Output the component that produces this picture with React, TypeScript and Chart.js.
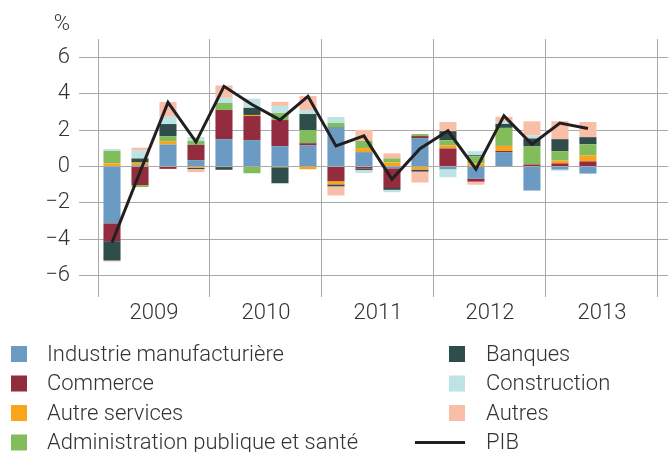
import { useEffect, useRef } from 'react';
import { Chart, registerables } from 'chart.js';

Chart.register(...registerables);

// ---- Data ----
const years = ['2009', '2010', '2011', '2012', '2013'];
const quarters = ['T1', 'T2', 'T3', 'T4'];
const categories = years.flatMap((y) => quarters.map((q) => `${y} ${q}`));
const yTickValues = [-6, -4, -2, 0, 2, 4, 6];
const unitLabel = '%';

const industrie = [-3.12, 0.07, 1.21, 0.35, 1.5, 1.45, 1.12, 1.17, 2.17, 0.79, -0.1, 1.56, -0.15, -0.66, 0.79, -1.32, -0.17, -0.39, null, null];
const commerce = [-0.98, -1.02, -0.13, 0.83, 1.6, 1.32, 1.43, 0.11, -0.81, -0.11, -1.08, 0.11, 0.99, -0.17, 0.06, 0.11, 0.17, 0.28, null, null];
const autreServices = [0.17, 0.15, 0.18, -0.07, -0.03, 0.06, -0.04, -0.15, -0.17, 0.22, 0.22, -0.17, 0.17, 0.17, 0.28, 0, 0.17, 0.33, null, null];
const administration = [0.68, -0.11, 0.28, 0.22, 0.39, -0.37, 0.39, 0.72, 0.22, 0.39, 0.22, 0.11, 0.28, 0.39, 0.99, 0.99, 0.5, 0.61, null, null];
const banques = [-1.06, 0.22, 0.66, -0.07, -0.15, 0.39, -0.88, 0.88, -0.11, -0.08, -0.1, -0.11, 0.5, 0.06, 0.22, 0.44, 0.66, 0.39, null, null];
const construction = [0.11, 0.44, 0.4, 0.22, 0.28, 0.5, 0.39, 0.22, 0.33, -0.17, -0.13, 0, -0.44, 0.22, 0.11, 0.17, -0.06, 0, null, null];
const autres = [-0.06, 0.15, 0.81, -0.17, 0.68, 0, 0.22, 0.77, -0.5, 0.61, 0.28, -0.6, 0.5, -0.17, 0.28, 0.77, 0.99, 0.83, null, null];
const pib = [-4.18, -0.3, 3.52, 1.35, 4.4, 3.4, 2.56, 3.85, 1.13, 1.68, -0.7, 0.98, 1.96, -0.15, 2.78, 1.22, 2.38, 2.09, null, null];

const barSeries = [
  { label: 'Industrie manufacturière', values: industrie, color: '#6b9bc3' },
  { label: 'Commerce', values: commerce, color: '#922c3e' },
  { label: 'Autre services', values: autreServices, color: '#f8a41d' },
  { label: 'Administration publique et santé', values: administration, color: '#83bd5b' },
  { label: 'Banques', values: banques, color: '#2f4d4b' },
  { label: 'Construction', values: construction, color: '#bde3e5' },
  { label: 'Autres', values: autres, color: '#f9bea7' },
];
const lineSeries = { label: 'PIB', values: pib, color: '#231f20' };

// ---- Styles ----
const FONT_FAMILY = 'Roboto, "Liberation Sans", Arial, sans-serif';
const FONT_SIZE = 22;
const TEXT_COLOR = '#333333';
const GRID_COLOR = '#a9a9a9';
const PER_YEAR = quarters.length;

const fmt = (v: number) => (v < 0 ? '\u2212' + Math.abs(v) : String(v));

const extrasPlugin = {
  id: 'extras',
  afterDraw(chart: any) {
    const { ctx, chartArea } = chart;
    const yScale = chart.scales.y;
    ctx.save();
    ctx.font = `300 ${FONT_SIZE}px ${FONT_FAMILY}`;
    ctx.fillStyle = TEXT_COLOR;
    ctx.textBaseline = 'middle';
    // unit label above y ticks
    ctx.textAlign = 'right';
    const tl = yScale.options.grid.tickLength;
    const pad = yScale.options.ticks.padding;
    ctx.fillText(unitLabel, yScale.right - tl - pad, chartArea.top - 15);

    // legend in two columns
    ctx.textAlign = 'left';
    const rowsPerCol = 4;
    const colBox = [11, 449];
    const colText = [47, 486];
    const firstRow = chartArea.bottom + 60;
    const rowGap = 29.5;
    chart.data.datasets.forEach((ds: any, i: number) => {
      const col = Math.floor(i / rowsPerCol);
      const row = i % rowsPerCol;
      const cy = firstRow + row * rowGap;
      if (ds.type === 'line') {
        ctx.strokeStyle = ds.borderColor;
        ctx.lineWidth = 3;
        ctx.beginPath();
        ctx.moveTo(colBox[col] - 34, cy);
        ctx.lineTo(colBox[col] + 16, cy);
        ctx.stroke();
      } else {
        ctx.fillStyle = ds.backgroundColor;
        ctx.fillRect(colBox[col], cy - 8, 16, 16);
      }
      ctx.fillStyle = TEXT_COLOR;
      ctx.fillText(ds.label, colText[col], cy + 1);
    });
    ctx.restore();
  },
};

export default function App() {
  const canvasRef = useRef<HTMLCanvasElement | null>(null);

  useEffect(() => {
    document.body.style.margin = '0';
    const canvas = canvasRef.current;
    if (!canvas) return;

    const datasets: any[] = barSeries.map((s) => ({
      type: 'bar',
      label: s.label,
      data: s.values.map((v, i) => ({ x: i, y: v })),
      backgroundColor: s.color,
      borderWidth: 0,
      categoryPercentage: 1,
      barPercentage: 0.61,
      order: 1,
    }));
    datasets.push({
      type: 'line',
      label: lineSeries.label,
      data: lineSeries.values.map((v, i) => ({ x: i, y: v })),
      borderColor: lineSeries.color,
      backgroundColor: lineSeries.color,
      borderWidth: 3,
      pointRadius: 0,
      tension: 0,
      spanGaps: false,
      order: 0,
    });

    const lastBoundary = categories.length - 0.5;

    const chart = new Chart(canvas, {
      data: { labels: categories, datasets },
      plugins: [extrasPlugin],
      options: {
        animation: false,
        responsive: false,
        layout: { padding: { top: 39, left: 0, right: 0, bottom: 118 } },
        plugins: {
          legend: { display: false },
          tooltip: { enabled: false },
          title: { display: false },
        },
        scales: {
          x: {
            type: 'linear',
            stacked: true,
            offset: false,
            min: -0.5,
            max: lastBoundary + 0.36,
            afterBuildTicks: (scale: any) => {
              const t: any[] = [];
              years.forEach((_, k) => {
                t.push({ value: k * PER_YEAR - 0.5 });
                t.push({ value: k * PER_YEAR + (PER_YEAR - 1) / 2 });
              });
              t.push({ value: lastBoundary });
              scale.ticks = t;
            },
            afterFit: (scale: any) => {
              scale.height = 40;
            },
            border: { display: false },
            grid: {
              offset: false,
              color: (ctx: any) => {
                const v = ctx.tick ? ctx.tick.value + 0.5 : NaN;
                return Number.isInteger(v) && v % PER_YEAR === 0 ? GRID_COLOR : 'rgba(0,0,0,0)';
              },
              lineWidth: 1,
              tickLength: 3,
            },
            ticks: {
              autoSkip: false,
              maxRotation: 0,
              padding: 3,
              color: TEXT_COLOR,
              font: { family: FONT_FAMILY, size: FONT_SIZE, weight: '300' as any },
              callback: (value: any) => {
                const k = (Number(value) - (PER_YEAR - 1) / 2) / PER_YEAR;
                return Number.isInteger(k) && years[k] ? years[k] : '';
              },
            },
          },
          y: {
            stacked: true,
            min: -7,
            max: 7,
            afterBuildTicks: (scale: any) => {
              scale.ticks = yTickValues.map((v) => ({ value: v }));
            },
            afterFit: (scale: any) => {
              scale.width = 98;
            },
            border: { display: false },
            grid: {
              color: GRID_COLOR,
              lineWidth: 1,
              tickLength: 19,
            },
            ticks: {
              padding: 9,
              color: TEXT_COLOR,
              font: { family: FONT_FAMILY, size: FONT_SIZE, weight: '300' as any },
              callback: (value: any) => fmt(Number(value)),
            },
          },
        },
      } as any,
    });

    return () => chart.destroy();
  }, []);

  return (
    <div style={{ width: 668, height: 452 }}>
      <canvas ref={canvasRef} width={668} height={452} />
    </div>
  );
}
